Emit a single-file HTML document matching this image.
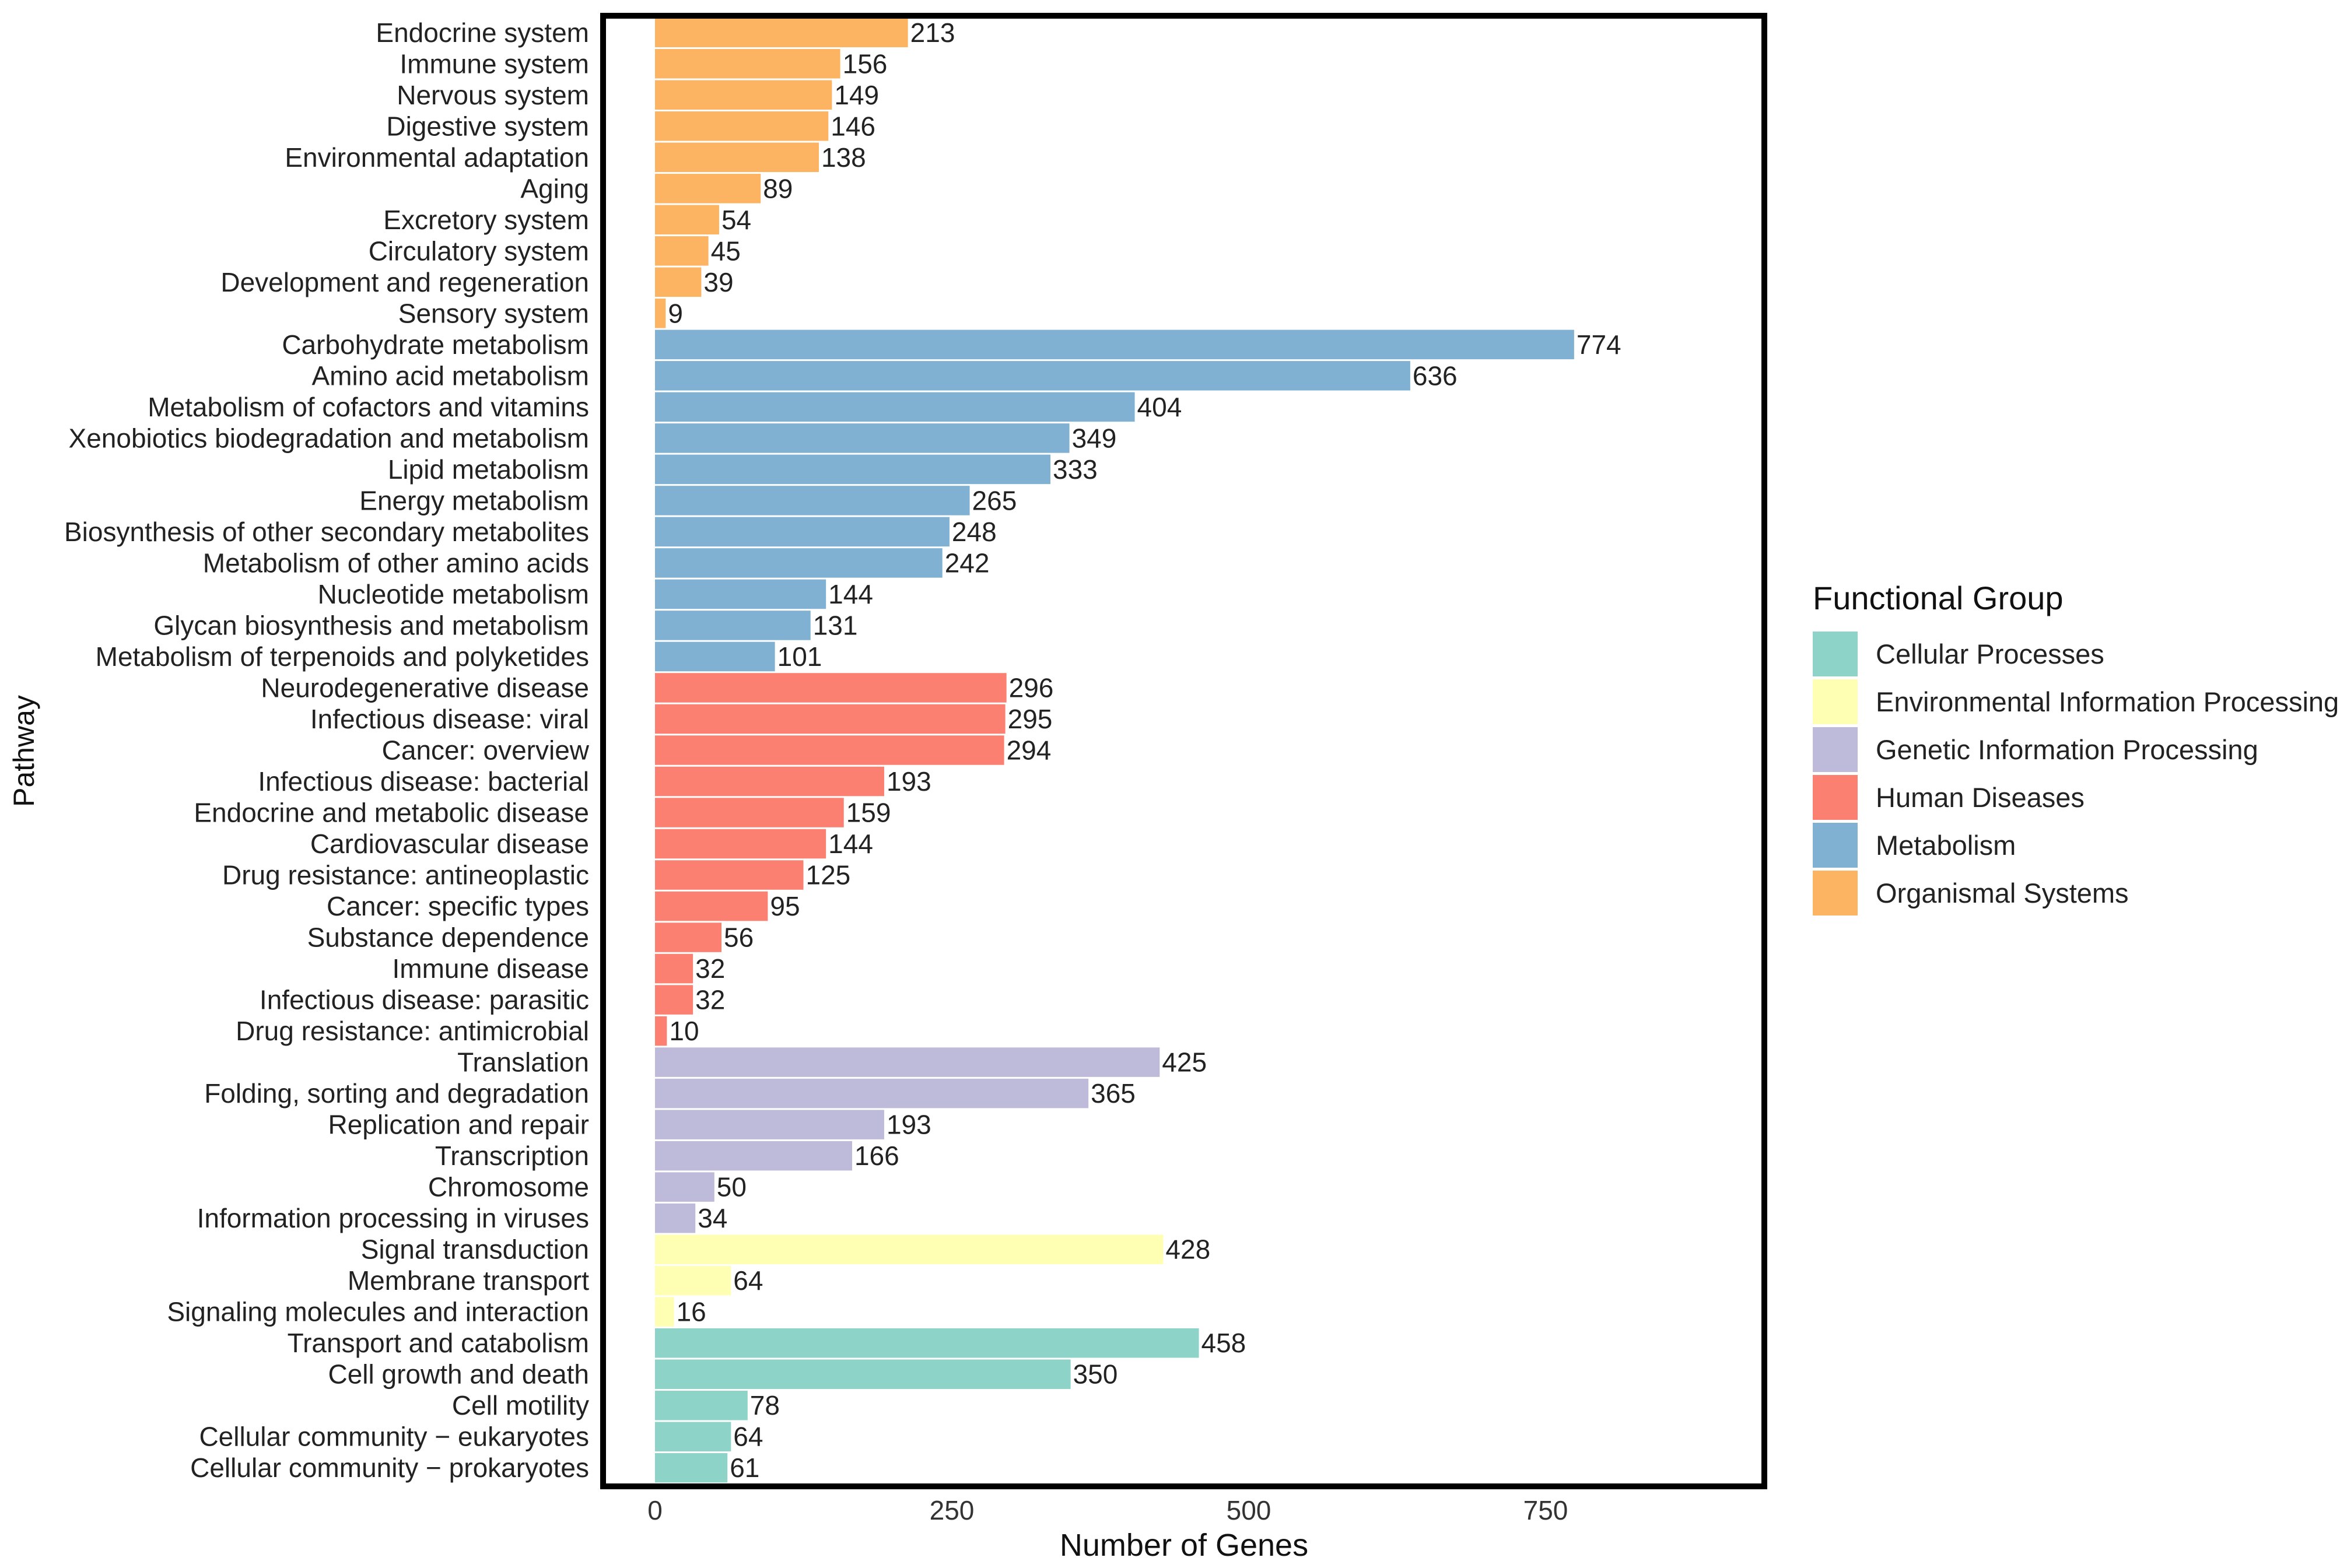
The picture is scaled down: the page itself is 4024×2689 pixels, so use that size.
<!DOCTYPE html>
<html><head><meta charset="utf-8"><style>
html,body{margin:0;padding:0;background:#fff;}
svg{display:block;font-family:"Liberation Sans",Arial,sans-serif;}
</style></head><body>
<svg id="chart" width="4024" height="2689" viewBox="0 0 4024 2689" xmlns="http://www.w3.org/2000/svg">
<g id="bars"></g>
<g id="ylabels"></g>
<g id="vlabels"></g>
<rect x="1034" y="27" width="1991" height="2522" fill="none" stroke="#000" stroke-width="10"/>
<g id="xticks"></g>
<text x="2030" y="2668" font-size="54" text-anchor="middle" fill="#111">Number of Genes</text>
<text x="0" y="0" font-size="50" text-anchor="middle" fill="#111" transform="translate(58,1288) rotate(-90)">Pathway</text>
<text x="3108" y="1045" font-size="56" fill="#111">Functional Group</text>
<g id="legend"></g>
</svg>
<script>
const categories = ["Endocrine system","Immune system","Nervous system","Digestive system","Environmental adaptation","Aging","Excretory system","Circulatory system","Development and regeneration","Sensory system",
"Carbohydrate metabolism","Amino acid metabolism","Metabolism of cofactors and vitamins","Xenobiotics biodegradation and metabolism","Lipid metabolism","Energy metabolism","Biosynthesis of other secondary metabolites","Metabolism of other amino acids","Nucleotide metabolism","Glycan biosynthesis and metabolism","Metabolism of terpenoids and polyketides",
"Neurodegenerative disease","Infectious disease: viral","Cancer: overview","Infectious disease: bacterial","Endocrine and metabolic disease","Cardiovascular disease","Drug resistance: antineoplastic","Cancer: specific types","Substance dependence","Immune disease","Infectious disease: parasitic","Drug resistance: antimicrobial",
"Translation","Folding, sorting and degradation","Replication and repair","Transcription","Chromosome","Information processing in viruses",
"Signal transduction","Membrane transport","Signaling molecules and interaction",
"Transport and catabolism","Cell growth and death","Cell motility","Cellular community \u2212 eukaryotes","Cellular community \u2212 prokaryotes"];
const values = [213,156,149,146,138,89,54,45,39,9,
774,636,404,349,333,265,248,242,144,131,101,
296,295,294,193,159,144,125,95,56,32,32,10,
425,365,193,166,50,34,
428,64,16,
458,350,78,64,61];
const groups = ["OS","OS","OS","OS","OS","OS","OS","OS","OS","OS",
"M","M","M","M","M","M","M","M","M","M","M",
"HD","HD","HD","HD","HD","HD","HD","HD","HD","HD","HD","HD",
"GIP","GIP","GIP","GIP","GIP","GIP",
"EIP","EIP","EIP",
"CP","CP","CP","CP","CP"];
const legendKeys = ["CP","EIP","GIP","HD","M","OS"];
const legendLabels = ["Cellular Processes","Environmental Information Processing","Genetic Information Processing","Human Diseases","Metabolism","Organismal Systems"];
const xTicks = [0,250,500,750];

const colors = {CP:"#8DD3C7",EIP:"#FFFFB3",GIP:"#BEBADA",HD:"#FB8072",M:"#80B1D3",OS:"#FDB462"};
const NS = "http://www.w3.org/2000/svg";
const x0 = 1123, pxPerUnit = 2.036;
const yTop = 29, yBot = 2544;
const step = (yBot - yTop) / categories.length;
const xScale = v => x0 + v * pxPerUnit;
const yScale = i => yTop + i * step;
function mk(tag, attrs, parent){const e=document.createElementNS(NS,tag);for(const k in attrs)e.setAttribute(k,attrs[k]);parent.appendChild(e);return e;}
const gb=document.getElementById('bars'), gy=document.getElementById('ylabels'), gv=document.getElementById('vlabels');
categories.forEach((c,i)=>{
  const y=yScale(i), h=step-3;
  const r=mk('rect',{x:x0,y:y+1.5,width:xScale(values[i])-x0,height:h,fill:colors[groups[i]]},gb);
  
  
  const t=mk('text',{x:1010,y:y+step/2+16,'font-size':46,'text-anchor':'end',fill:'#222'},gy);
  t.textContent=c;
  
  
  const v=mk('text',{x:xScale(values[i])+4,y:y+step/2+16,'font-size':46,fill:'#222'},gv);
  v.textContent=values[i];
  
  
});
const gx=document.getElementById('xticks');
xTicks.forEach(t=>{
  const e=mk('text',{x:xScale(t),y:2606,'font-size':46,'text-anchor':'middle',fill:'#333'},gx);
  e.textContent=t;
  
  
});
const gl=document.getElementById('legend');
legendKeys.forEach((k,i)=>{
  const y=1083+i*82;
  const r=mk('rect',{x:3108,y:y,width:77,height:77,fill:colors[k]},gl);
  
  
  const t=mk('text',{x:3216,y:y+55,'font-size':47,fill:'#222'},gl);
  t.textContent=legendLabels[i];
  
  
});
</script>
</body></html>
